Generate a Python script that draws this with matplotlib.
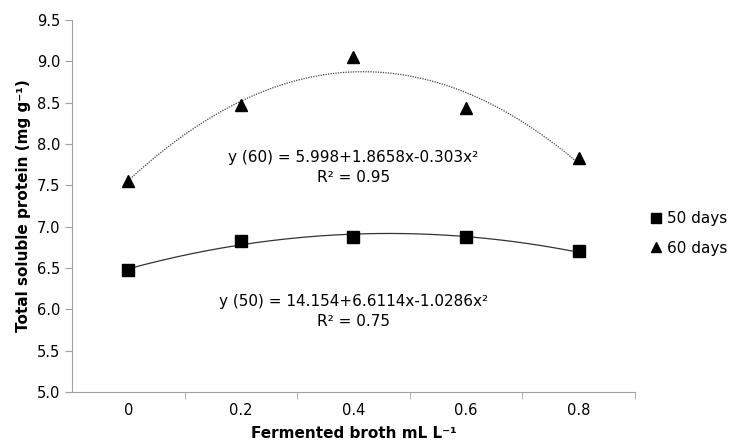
import numpy as np
import matplotlib
matplotlib.use('Agg')
import matplotlib.pyplot as plt

# data
doses = ['0', '0.2', '0.4', '0.6', '0.8']
days50 = [6.47, 6.83, 6.88, 6.87, 6.70]
days60 = [7.55, 8.47, 9.05, 8.43, 7.83]
eq50 = 'y (50) = 14.154+6.6114x-1.0286x²\nR² = 0.75'
eq60 = 'y (60) = 5.998+1.8658x-0.303x²\nR² = 0.95'

plt.rcParams['font.family'] = ['DejaVu Sans']
plt.rcParams['font.size'] = 10.5

fig = plt.figure(figsize=(7.41, 4.43), dpi=100)
ax = fig.add_axes([0.097, 0.115, 0.76, 0.84])

x = np.arange(1, len(doses) + 1)
xs = np.linspace(1, len(doses), 200)

# quadratic trendlines (Excel style, x = category index)
c50 = np.polyfit(x, days50, 2)
c60 = np.polyfit(x, days60, 2)
ax.plot(xs, np.polyval(c50, xs), color='#333333', lw=0.9)
ax.plot(xs, np.polyval(c60, xs), color='#444444', lw=0.9, ls=(0, (1, 1)))

ax.plot(x, days50, ls='none', marker='s', ms=9, color='black', label='50 days')
ax.plot(x, days60, ls='none', marker='^', ms=9, color='black', label='60 days')

ax.text(3, 7.72, eq60, ha='center', va='center', fontsize=11, linespacing=1.4)
ax.text(3, 5.97, eq50, ha='center', va='center', fontsize=11, linespacing=1.4)

ax.set_xlim(0.5, len(doses) + 0.5)
ax.set_ylim(5.0, 9.5)
ax.set_yticks(np.arange(5.0, 9.51, 0.5))
ax.set_yticklabels([f'{v:.1f}' for v in np.arange(5.0, 9.51, 0.5)])
ax.set_xticks(x)
ax.set_xticklabels(doses)
ax.set_xticks(np.arange(1.5, len(doses) + 1, 1), minor=True)
ax.tick_params(axis='x', which='major', length=0, pad=8)
ax.tick_params(axis='x', which='minor', length=5, color='#a0a0a0')
ax.tick_params(axis='y', length=5, color='#a0a0a0')

for s in ['top', 'right']:
    ax.spines[s].set_visible(False)
for s in ['left', 'bottom']:
    ax.spines[s].set_color('#a0a0a0')

ax.set_ylabel('Total soluble protein (mg g⁻¹)', fontweight='bold', fontsize=11)
ax.set_xlabel('Fermented broth mL L⁻¹', fontweight='bold', fontsize=11, labelpad=6)

ax.legend(loc='center left', bbox_to_anchor=(1.0, 0.426), frameon=False,
          handletextpad=0.2, handlelength=1.0, markerscale=0.75, fontsize=11,
          labelspacing=0.95)

fig.savefig('out.png', dpi=100)
